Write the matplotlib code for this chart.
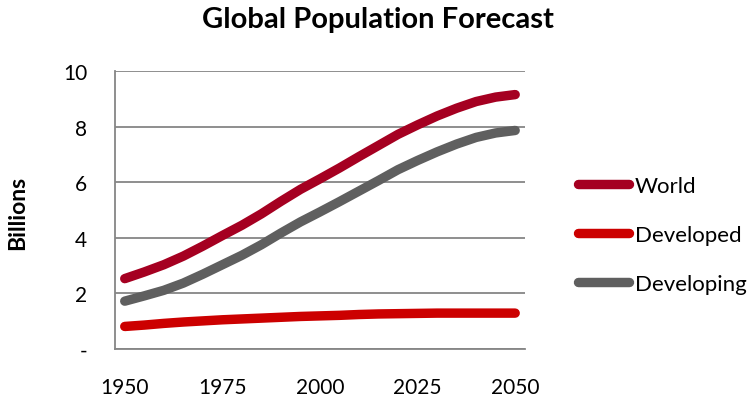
import matplotlib.pyplot as plt

years = list(range(1950, 2051, 5))
world = [2.53, 2.77, 3.03, 3.34, 3.70, 4.08, 4.45, 4.86, 5.31, 5.74, 6.12,
         6.51, 6.92, 7.32, 7.72, 8.06, 8.38, 8.66, 8.90, 9.06, 9.15]
developed = [0.81, 0.86, 0.92, 0.97, 1.01, 1.05, 1.08, 1.11, 1.14, 1.17, 1.19,
             1.21, 1.24, 1.26, 1.27, 1.28, 1.29, 1.29, 1.29, 1.29, 1.29]
developing = [1.72, 1.91, 2.11, 2.37, 2.69, 3.03, 3.37, 3.75, 4.17, 4.57, 4.93,
              5.30, 5.68, 6.06, 6.45, 6.78, 7.09, 7.37, 7.61, 7.77, 7.86]
year_labels = ["1950", "1975", "2000", "2025", "2050"]
y_ticks = [0, 2, 4, 6, 8, 10]
y_labels = ["-", "2", "4", "6", "8", "10"]

plt.rcParams['font.family'] = ['Lato', 'DejaVu Sans']

fig = plt.figure(figsize=(7.55, 4.02), dpi=100)
ax = fig.add_axes([0.1523, 0.1294, 0.5430, 0.6916])

x = list(range(len(years)))
grid_col = '#868686'
lw = 6.8
fs = 15

ax.plot(x, world, color='#A50021', lw=lw, solid_capstyle='round', label='World', zorder=3)
ax.plot(x, developed, color='#CC0000', lw=lw, solid_capstyle='round', label='Developed', zorder=3)
ax.plot(x, developing, color='#5F5F5F', lw=lw, solid_capstyle='round', label='Developing', zorder=3)

ax.set_xlim(-0.5, len(years) - 0.5)
ax.set_ylim(0, 10)
ax.set_xticks([years.index(int(y)) for y in year_labels])
ax.set_xticklabels(year_labels, fontsize=fs)
ax.set_yticks(y_ticks)
ax.set_yticklabels(y_labels, fontsize=fs)
ax.tick_params(length=0)
ax.tick_params(axis='x', pad=20)
ax.tick_params(axis='y', pad=20)

ax.yaxis.grid(True, color=grid_col, lw=1.3)
ax.set_axisbelow(True)
for s in ['top', 'right']:
    ax.spines[s].set_visible(False)
for s in ['left', 'bottom']:
    ax.spines[s].set_color(grid_col)
    ax.spines[s].set_linewidth(1.3)

fig.text(0.5, 0.95, 'Global Population Forecast', ha='center', va='center',
         fontsize=21, fontweight='bold')
fig.text(0.024, 0.47, 'Billions', rotation=90, ha='center', va='center',
         fontsize=16.5, fontweight='bold')

leg = fig.legend(loc='center left', bbox_to_anchor=(0.766, 0.413), frameon=False,
                 fontsize=16, handlelength=2.3, handletextpad=0.25, labelspacing=1.3,
                 borderaxespad=0, borderpad=0)

plt.savefig("out.png", dpi=100)
